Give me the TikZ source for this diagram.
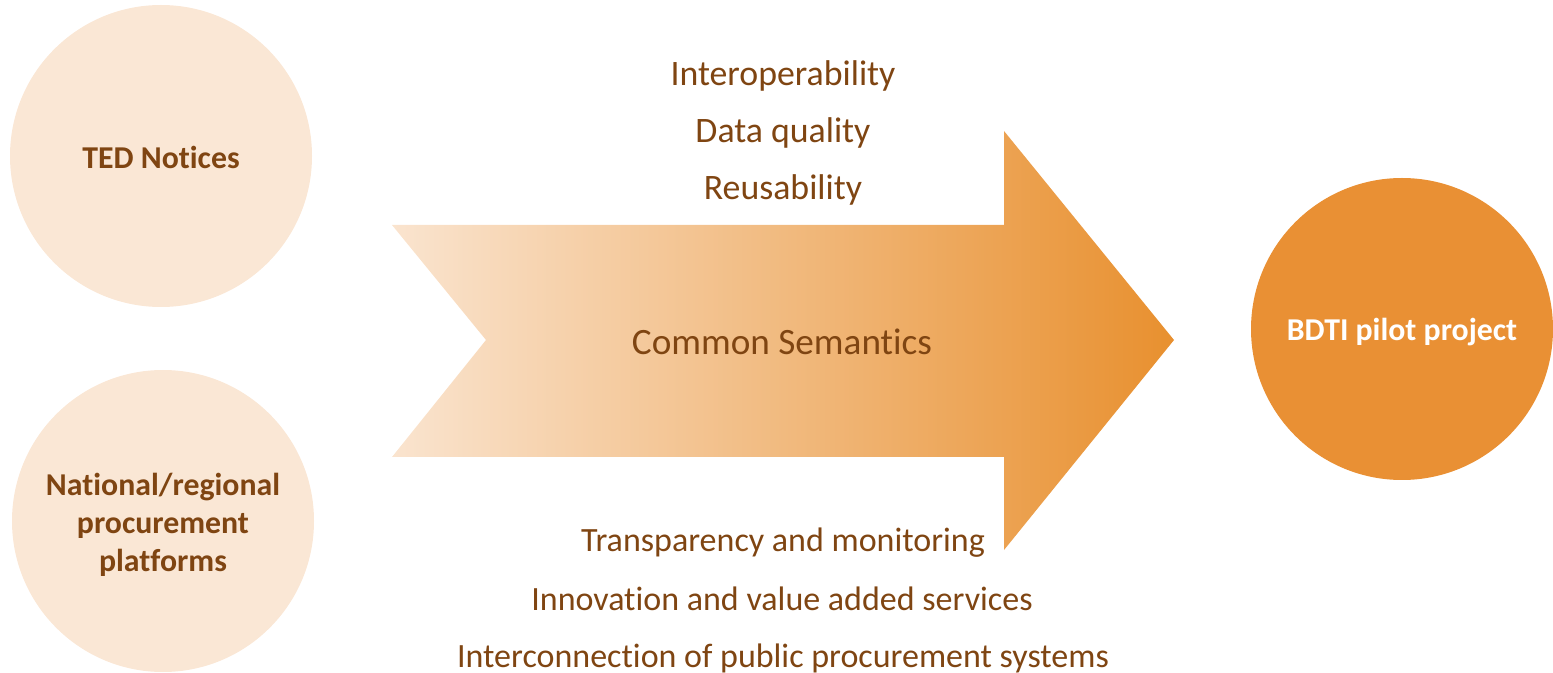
\documentclass[tikz,border=0pt]{standalone}
\usepackage{fontspec}
\setmainfont{Carlito}[Ligatures=NoCommon]
\definecolor{txtbrown}{HTML}{7F4512}
\definecolor{lightpeach}{HTML}{FAE7D5}
\definecolor{arrowleft}{HTML}{FAE4CF}
\definecolor{arrowright}{HTML}{E8902F}
\definecolor{bdti}{HTML}{E99034}
\begin{document}
\begin{tikzpicture}[x=0.5pt,y=-0.5pt,
  src/.style={circle,fill=lightpeach,minimum size=302pt*0.5,inner sep=0pt},
  dst/.style={circle,fill=bdti,minimum size=302pt*0.5,inner sep=0pt},
  boldlbl/.style={font=\fontsize{15.9pt}{19pt}\selectfont\bfseries,align=center,inner sep=0pt},
  benefit/.style={text=txtbrown,font=\fontsize{17pt}{21pt}\selectfont,inner sep=0pt,anchor=base},
  benefittop/.style={benefit,font=\fontsize{17.9pt}{21pt}\selectfont}]
\useasboundingbox (0,0) rectangle (1553,673);
% arrow
\shade[left color=arrowleft,right color=arrowright]
  (392,225) -- (1004,225) -- (1004,131) -- (1174,340) -- (1004,550) -- (1004,457) -- (392,457) -- (486,340) -- cycle;
\node[src] (ted) at (161,156) {};
\node[boldlbl,text=txtbrown,anchor=base] (tedl) at (161,169) {TED Notices};
\node[src] (nat) at (163,521) {};
\node[boldlbl,text=txtbrown] (natl) at (163,525) {National/regional\\procurement\\platforms};
\node[dst] (bdti) at (1402,329) {};
\node[boldlbl,text=white,anchor=base] (bdtil) at (1402,341) {BDTI pilot project};
\node[benefit,font=\fontsize{18.6pt}{21pt}\selectfont] (cs) at (782,355) {Common Semantics};
\node[benefittop] (b1) at (783,86) {Interoperability};
\node[benefittop] (b2) at (783,143) {Data quality};
\node[benefittop] (b3) at (783,200) {Reusability};
\node[benefit] (b4) at (783,552) {Transparency and monitoring};
\node[benefit] (b5) at (782,610) {Innovation and value added services};
\node[benefit] (b6) at (783,667) {Interconnection of public procurement systems};
\end{tikzpicture}
\end{document}
